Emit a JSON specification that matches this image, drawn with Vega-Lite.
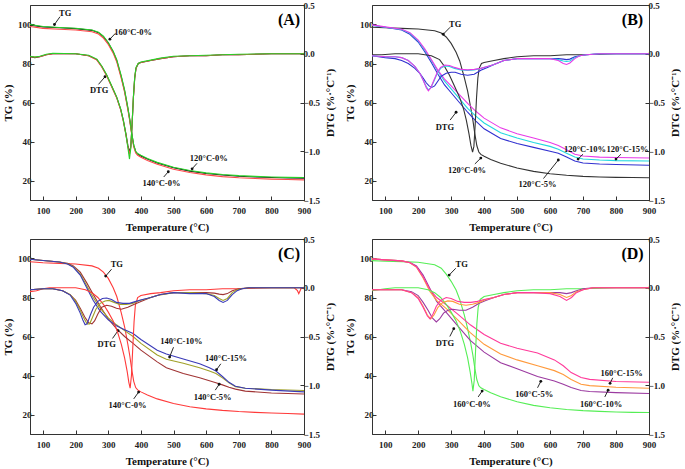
{
"$schema": "https://vega.github.io/schema/vega-lite/v6.json",
"padding": {"left": 2, "top": 0, "right": 0, "bottom": 0},
"background": "white",
"config": {
  "view": {"stroke": "#333", "strokeWidth": 1},
  "font": "Liberation Serif",
  "axis": {"labelFont": "Liberation Serif", "titleFont": "Liberation Serif", "labelFontWeight": "bold", "titleFontWeight": "bold", "labelFontSize": 9, "titleFontSize": 11, "grid": false, "domainColor": "#333", "tickColor": "#333", "labelColor": "#222", "titleColor": "#111", "tickSize": -4, "labelPadding": 3, "labelOverlap": false, "labelSeparation": 0},
  "axisX": {"labelPadding": 10, "titlePadding": 6, "labelOverlap": false, "labelFlush": false, "labelBound": false, "tickCount": 9}
},
"datasets": {
  "tgA": [
    {"s":"A120","t":60,"v":99.6},{"s":"A120","t":100,"v":98.8},{"s":"A120","t":150,"v":98.3},{"s":"A120","t":200,"v":97.9},{"s":"A120","t":250,"v":97.0},{"s":"A120","t":270,"v":95.8},{"s":"A120","t":285,"v":93.8},{"s":"A120","t":300,"v":90.5},{"s":"A120","t":315,"v":86},{"s":"A120","t":326,"v":81.5},{"s":"A120","t":340,"v":73},{"s":"A120","t":350,"v":66},{"s":"A120","t":360,"v":57},{"s":"A120","t":366,"v":51},{"s":"A120","t":372,"v":44},{"s":"A120","t":378,"v":38},{"s":"A120","t":384,"v":34.8},{"s":"A120","t":390,"v":33.6},{"s":"A120","t":400,"v":32.6},{"s":"A120","t":420,"v":31},{"s":"A120","t":450,"v":29},{"s":"A120","t":500,"v":26.5},{"s":"A120","t":550,"v":24.8},{"s":"A120","t":600,"v":23.6},{"s":"A120","t":650,"v":22.8},{"s":"A120","t":700,"v":22.2},{"s":"A120","t":750,"v":21.8},{"s":"A120","t":800,"v":21.5},{"s":"A120","t":850,"v":21.3},{"s":"A120","t":900,"v":21.2},
    {"s":"A140","t":60,"v":99.0},{"s":"A140","t":100,"v":98.0},{"s":"A140","t":150,"v":97.6},{"s":"A140","t":200,"v":97.2},{"s":"A140","t":250,"v":96.3},{"s":"A140","t":270,"v":95.1},{"s":"A140","t":285,"v":93.0},{"s":"A140","t":300,"v":89.8},{"s":"A140","t":315,"v":85.3},{"s":"A140","t":326,"v":80.8},{"s":"A140","t":340,"v":72.3},{"s":"A140","t":350,"v":65.3},{"s":"A140","t":360,"v":56.3},{"s":"A140","t":366,"v":50.3},{"s":"A140","t":372,"v":43.3},{"s":"A140","t":378,"v":37.3},{"s":"A140","t":384,"v":34.1},{"s":"A140","t":390,"v":32.9},{"s":"A140","t":400,"v":31.9},{"s":"A140","t":420,"v":30.3},{"s":"A140","t":450,"v":28.3},{"s":"A140","t":500,"v":25.8},{"s":"A140","t":550,"v":24.1},{"s":"A140","t":600,"v":22.9},{"s":"A140","t":650,"v":22.0},{"s":"A140","t":700,"v":21.4},{"s":"A140","t":750,"v":21.0},{"s":"A140","t":800,"v":20.7},{"s":"A140","t":850,"v":20.5},{"s":"A140","t":900,"v":20.3},
    {"s":"A160","t":60,"v":100.0},{"s":"A160","t":100,"v":99.0},{"s":"A160","t":150,"v":98.5},{"s":"A160","t":200,"v":98.1},{"s":"A160","t":250,"v":97.2},{"s":"A160","t":270,"v":96.0},{"s":"A160","t":285,"v":94.0},{"s":"A160","t":300,"v":90.8},{"s":"A160","t":315,"v":86.3},{"s":"A160","t":326,"v":82},{"s":"A160","t":340,"v":73.5},{"s":"A160","t":350,"v":66.5},{"s":"A160","t":360,"v":57.5},{"s":"A160","t":366,"v":51.3},{"s":"A160","t":372,"v":44.2},{"s":"A160","t":378,"v":38.2},{"s":"A160","t":384,"v":35.0},{"s":"A160","t":390,"v":33.8},{"s":"A160","t":400,"v":32.9},{"s":"A160","t":420,"v":31.3},{"s":"A160","t":450,"v":29.3},{"s":"A160","t":500,"v":26.8},{"s":"A160","t":550,"v":25.1},{"s":"A160","t":600,"v":23.9},{"s":"A160","t":650,"v":23.1},{"s":"A160","t":700,"v":22.5},{"s":"A160","t":750,"v":22.1},{"s":"A160","t":800,"v":21.8},{"s":"A160","t":850,"v":21.6},{"s":"A160","t":900,"v":21.5}
  ],
  "dtgA": [
    {"s":"A120","t":60,"v":-0.03},{"s":"A120","t":75,"v":-0.04},{"s":"A120","t":90,"v":-0.03},{"s":"A120","t":110,"v":-0.01},{"s":"A120","t":130,"v":0.0},{"s":"A120","t":200,"v":0.0},{"s":"A120","t":240,"v":-0.02},{"s":"A120","t":265,"v":-0.06},{"s":"A120","t":280,"v":-0.13},{"s":"A120","t":295,"v":-0.22},{"s":"A120","t":310,"v":-0.33},{"s":"A120","t":326,"v":-0.45},{"s":"A120","t":338,"v":-0.57},{"s":"A120","t":346,"v":-0.68},{"s":"A120","t":354,"v":-0.82},{"s":"A120","t":360,"v":-0.94},{"s":"A120","t":365,"v":-1.01},{"s":"A120","t":369,"v":-0.95},{"s":"A120","t":373,"v":-0.72},{"s":"A120","t":377,"v":-0.45},{"s":"A120","t":381,"v":-0.25},{"s":"A120","t":385,"v":-0.15},{"s":"A120","t":392,"v":-0.1},{"s":"A120","t":400,"v":-0.09},{"s":"A120","t":430,"v":-0.07},{"s":"A120","t":460,"v":-0.05},{"s":"A120","t":500,"v":-0.03},{"s":"A120","t":550,"v":-0.02},{"s":"A120","t":600,"v":-0.02},{"s":"A120","t":650,"v":-0.01},{"s":"A120","t":700,"v":-0.01},{"s":"A120","t":800,"v":0.0},{"s":"A120","t":900,"v":0.0},
    {"s":"A140","t":60,"v":-0.03},{"s":"A140","t":75,"v":-0.035},{"s":"A140","t":90,"v":-0.03},{"s":"A140","t":110,"v":-0.01},{"s":"A140","t":130,"v":0.0},{"s":"A140","t":200,"v":0.0},{"s":"A140","t":240,"v":-0.02},{"s":"A140","t":265,"v":-0.065},{"s":"A140","t":280,"v":-0.135},{"s":"A140","t":295,"v":-0.225},{"s":"A140","t":310,"v":-0.335},{"s":"A140","t":326,"v":-0.455},{"s":"A140","t":338,"v":-0.575},{"s":"A140","t":346,"v":-0.69},{"s":"A140","t":354,"v":-0.83},{"s":"A140","t":360,"v":-0.95},{"s":"A140","t":365,"v":-1.03},{"s":"A140","t":369,"v":-0.96},{"s":"A140","t":373,"v":-0.72},{"s":"A140","t":377,"v":-0.45},{"s":"A140","t":381,"v":-0.25},{"s":"A140","t":385,"v":-0.15},{"s":"A140","t":392,"v":-0.1},{"s":"A140","t":400,"v":-0.09},{"s":"A140","t":430,"v":-0.07},{"s":"A140","t":460,"v":-0.05},{"s":"A140","t":500,"v":-0.03},{"s":"A140","t":550,"v":-0.02},{"s":"A140","t":600,"v":-0.02},{"s":"A140","t":650,"v":-0.01},{"s":"A140","t":700,"v":-0.01},{"s":"A140","t":800,"v":0.0},{"s":"A140","t":900,"v":0.0},
    {"s":"A160","t":60,"v":-0.025},{"s":"A160","t":75,"v":-0.035},{"s":"A160","t":90,"v":-0.025},{"s":"A160","t":110,"v":-0.005},{"s":"A160","t":130,"v":0.005},{"s":"A160","t":200,"v":0.0},{"s":"A160","t":240,"v":-0.015},{"s":"A160","t":265,"v":-0.055},{"s":"A160","t":280,"v":-0.125},{"s":"A160","t":295,"v":-0.215},{"s":"A160","t":310,"v":-0.325},{"s":"A160","t":326,"v":-0.445},{"s":"A160","t":338,"v":-0.565},{"s":"A160","t":346,"v":-0.68},{"s":"A160","t":354,"v":-0.83},{"s":"A160","t":360,"v":-0.96},{"s":"A160","t":365,"v":-1.08},{"s":"A160","t":369,"v":-0.97},{"s":"A160","t":373,"v":-0.72},{"s":"A160","t":377,"v":-0.44},{"s":"A160","t":381,"v":-0.24},{"s":"A160","t":385,"v":-0.14},{"s":"A160","t":392,"v":-0.1},{"s":"A160","t":400,"v":-0.085},{"s":"A160","t":430,"v":-0.065},{"s":"A160","t":460,"v":-0.045},{"s":"A160","t":500,"v":-0.025},{"s":"A160","t":550,"v":-0.02},{"s":"A160","t":600,"v":-0.015},{"s":"A160","t":650,"v":-0.01},{"s":"A160","t":700,"v":-0.005},{"s":"A160","t":800,"v":0.0},{"s":"A160","t":900,"v":0.0}
  ],
  "tgB": [
    {"s":"B0","t":60,"v":98.6},{"s":"B0","t":100,"v":98.3},{"s":"B0","t":150,"v":98.0},{"s":"B0","t":200,"v":97.7},{"s":"B0","t":250,"v":96.8},{"s":"B0","t":270,"v":95.6},{"s":"B0","t":285,"v":93.6},{"s":"B0","t":300,"v":90.3},{"s":"B0","t":315,"v":85.8},{"s":"B0","t":326,"v":81.3},{"s":"B0","t":340,"v":72.8},{"s":"B0","t":350,"v":65.8},{"s":"B0","t":360,"v":56.8},{"s":"B0","t":366,"v":50.8},{"s":"B0","t":372,"v":43.8},{"s":"B0","t":378,"v":37.8},{"s":"B0","t":384,"v":34.6},{"s":"B0","t":390,"v":33.4},{"s":"B0","t":400,"v":32.4},{"s":"B0","t":420,"v":30.8},{"s":"B0","t":450,"v":28.8},{"s":"B0","t":500,"v":26.4},{"s":"B0","t":550,"v":24.7},{"s":"B0","t":600,"v":23.5},{"s":"B0","t":650,"v":22.7},{"s":"B0","t":700,"v":22.1},{"s":"B0","t":750,"v":21.8},{"s":"B0","t":800,"v":21.6},{"s":"B0","t":850,"v":21.5},{"s":"B0","t":900,"v":21.4},
    {"s":"B5","t":60,"v":99.6},{"s":"B5","t":100,"v":98.6},{"s":"B5","t":150,"v":97.2},{"s":"B5","t":175,"v":95},{"s":"B5","t":200,"v":91},{"s":"B5","t":220,"v":86},{"s":"B5","t":240,"v":80.5},{"s":"B5","t":260,"v":74.5},{"s":"B5","t":280,"v":69},{"s":"B5","t":300,"v":65},{"s":"B5","t":325,"v":60},{"s":"B5","t":350,"v":55},{"s":"B5","t":375,"v":50.5},{"s":"B5","t":400,"v":46.5},{"s":"B5","t":450,"v":41.5},{"s":"B5","t":500,"v":39},{"s":"B5","t":550,"v":37},{"s":"B5","t":600,"v":35},{"s":"B5","t":625,"v":34},{"s":"B5","t":650,"v":32},{"s":"B5","t":675,"v":30},{"s":"B5","t":700,"v":29},{"s":"B5","t":750,"v":28.5},{"s":"B5","t":800,"v":28.2},{"s":"B5","t":900,"v":27.8},
    {"s":"B10","t":60,"v":99.6},{"s":"B10","t":100,"v":98.6},{"s":"B10","t":150,"v":97.4},{"s":"B10","t":175,"v":95.5},{"s":"B10","t":200,"v":91.6},{"s":"B10","t":220,"v":87},{"s":"B10","t":240,"v":81.5},{"s":"B10","t":260,"v":76},{"s":"B10","t":280,"v":71},{"s":"B10","t":300,"v":67},{"s":"B10","t":325,"v":62},{"s":"B10","t":350,"v":57},{"s":"B10","t":375,"v":53},{"s":"B10","t":400,"v":49.5},{"s":"B10","t":450,"v":44.5},{"s":"B10","t":500,"v":41.8},{"s":"B10","t":550,"v":39.5},{"s":"B10","t":600,"v":37.5},{"s":"B10","t":625,"v":36},{"s":"B10","t":650,"v":34},{"s":"B10","t":675,"v":32},{"s":"B10","t":700,"v":31},{"s":"B10","t":750,"v":30.5},{"s":"B10","t":800,"v":30.2},{"s":"B10","t":900,"v":30},
    {"s":"B15","t":60,"v":99.8},{"s":"B15","t":100,"v":98.8},{"s":"B15","t":150,"v":97.6},{"s":"B15","t":175,"v":95.8},{"s":"B15","t":200,"v":92},{"s":"B15","t":220,"v":87.5},{"s":"B15","t":240,"v":82},{"s":"B15","t":260,"v":76.5},{"s":"B15","t":280,"v":72},{"s":"B15","t":300,"v":68.5},{"s":"B15","t":325,"v":64},{"s":"B15","t":350,"v":59.5},{"s":"B15","t":375,"v":55.5},{"s":"B15","t":400,"v":52},{"s":"B15","t":450,"v":47},{"s":"B15","t":500,"v":44},{"s":"B15","t":550,"v":41.8},{"s":"B15","t":600,"v":39.5},{"s":"B15","t":625,"v":38},{"s":"B15","t":650,"v":35.8},{"s":"B15","t":675,"v":33.5},{"s":"B15","t":700,"v":32.6},{"s":"B15","t":750,"v":32},{"s":"B15","t":800,"v":31.8},{"s":"B15","t":900,"v":31.5}
  ],
  "dtgB": [
    {"s":"B0","t":60,"v":-0.01},{"s":"B0","t":90,"v":-0.01},{"s":"B0","t":130,"v":0.0},{"s":"B0","t":200,"v":0.0},{"s":"B0","t":240,"v":-0.02},{"s":"B0","t":265,"v":-0.06},{"s":"B0","t":280,"v":-0.13},{"s":"B0","t":295,"v":-0.22},{"s":"B0","t":310,"v":-0.33},{"s":"B0","t":326,"v":-0.45},{"s":"B0","t":338,"v":-0.57},{"s":"B0","t":346,"v":-0.68},{"s":"B0","t":354,"v":-0.82},{"s":"B0","t":360,"v":-0.94},{"s":"B0","t":365,"v":-1.01},{"s":"B0","t":369,"v":-0.95},{"s":"B0","t":373,"v":-0.72},{"s":"B0","t":377,"v":-0.45},{"s":"B0","t":381,"v":-0.25},{"s":"B0","t":385,"v":-0.15},{"s":"B0","t":392,"v":-0.1},{"s":"B0","t":400,"v":-0.09},{"s":"B0","t":430,"v":-0.07},{"s":"B0","t":460,"v":-0.05},{"s":"B0","t":500,"v":-0.03},{"s":"B0","t":550,"v":-0.02},{"s":"B0","t":600,"v":-0.02},{"s":"B0","t":650,"v":-0.01},{"s":"B0","t":700,"v":-0.01},{"s":"B0","t":800,"v":0.0},{"s":"B0","t":900,"v":0.0},
    {"s":"B5","t":60,"v":-0.02},{"s":"B5","t":100,"v":-0.04},{"s":"B5","t":130,"v":-0.05},{"s":"B5","t":150,"v":-0.07},{"s":"B5","t":170,"v":-0.1},{"s":"B5","t":190,"v":-0.15},{"s":"B5","t":205,"v":-0.2},{"s":"B5","t":215,"v":-0.25},{"s":"B5","t":225,"v":-0.3},{"s":"B5","t":233,"v":-0.33},{"s":"B5","t":241,"v":-0.345},{"s":"B5","t":250,"v":-0.33},{"s":"B5","t":260,"v":-0.28},{"s":"B5","t":270,"v":-0.23},{"s":"B5","t":285,"v":-0.2},{"s":"B5","t":300,"v":-0.19},{"s":"B5","t":312,"v":-0.19},{"s":"B5","t":330,"v":-0.21},{"s":"B5","t":350,"v":-0.22},{"s":"B5","t":370,"v":-0.21},{"s":"B5","t":390,"v":-0.17},{"s":"B5","t":410,"v":-0.14},{"s":"B5","t":430,"v":-0.11},{"s":"B5","t":460,"v":-0.07},{"s":"B5","t":500,"v":-0.05},{"s":"B5","t":550,"v":-0.05},{"s":"B5","t":600,"v":-0.05},{"s":"B5","t":625,"v":-0.05},{"s":"B5","t":640,"v":-0.055},{"s":"B5","t":650,"v":-0.06},{"s":"B5","t":660,"v":-0.055},{"s":"B5","t":675,"v":-0.03},{"s":"B5","t":690,"v":-0.02},{"s":"B5","t":710,"v":-0.01},{"s":"B5","t":750,"v":0},{"s":"B5","t":900,"v":0},
    {"s":"B10","t":60,"v":-0.02},{"s":"B10","t":100,"v":-0.03},{"s":"B10","t":130,"v":-0.03},{"s":"B10","t":150,"v":-0.04},{"s":"B10","t":170,"v":-0.07},{"s":"B10","t":190,"v":-0.13},{"s":"B10","t":205,"v":-0.2},{"s":"B10","t":215,"v":-0.27},{"s":"B10","t":225,"v":-0.34},{"s":"B10","t":231,"v":-0.37},{"s":"B10","t":238,"v":-0.35},{"s":"B10","t":248,"v":-0.28},{"s":"B10","t":258,"v":-0.2},{"s":"B10","t":268,"v":-0.15},{"s":"B10","t":281,"v":-0.125},{"s":"B10","t":295,"v":-0.13},{"s":"B10","t":310,"v":-0.15},{"s":"B10","t":330,"v":-0.165},{"s":"B10","t":350,"v":-0.17},{"s":"B10","t":370,"v":-0.165},{"s":"B10","t":390,"v":-0.15},{"s":"B10","t":410,"v":-0.13},{"s":"B10","t":430,"v":-0.11},{"s":"B10","t":460,"v":-0.07},{"s":"B10","t":500,"v":-0.05},{"s":"B10","t":550,"v":-0.05},{"s":"B10","t":600,"v":-0.05},{"s":"B10","t":625,"v":-0.06},{"s":"B10","t":640,"v":-0.075},{"s":"B10","t":650,"v":-0.08},{"s":"B10","t":660,"v":-0.075},{"s":"B10","t":675,"v":-0.04},{"s":"B10","t":690,"v":-0.02},{"s":"B10","t":710,"v":-0.01},{"s":"B10","t":750,"v":0},{"s":"B10","t":900,"v":0},
    {"s":"B15","t":60,"v":-0.02},{"s":"B15","t":100,"v":-0.03},{"s":"B15","t":130,"v":-0.03},{"s":"B15","t":150,"v":-0.04},{"s":"B15","t":170,"v":-0.07},{"s":"B15","t":190,"v":-0.13},{"s":"B15","t":205,"v":-0.2},{"s":"B15","t":215,"v":-0.27},{"s":"B15","t":225,"v":-0.35},{"s":"B15","t":231,"v":-0.38},{"s":"B15","t":238,"v":-0.35},{"s":"B15","t":248,"v":-0.27},{"s":"B15","t":258,"v":-0.19},{"s":"B15","t":268,"v":-0.14},{"s":"B15","t":281,"v":-0.115},{"s":"B15","t":295,"v":-0.12},{"s":"B15","t":310,"v":-0.14},{"s":"B15","t":330,"v":-0.16},{"s":"B15","t":350,"v":-0.165},{"s":"B15","t":370,"v":-0.16},{"s":"B15","t":390,"v":-0.15},{"s":"B15","t":410,"v":-0.13},{"s":"B15","t":430,"v":-0.11},{"s":"B15","t":460,"v":-0.07},{"s":"B15","t":500,"v":-0.05},{"s":"B15","t":550,"v":-0.05},{"s":"B15","t":600,"v":-0.05},{"s":"B15","t":625,"v":-0.07},{"s":"B15","t":640,"v":-0.1},{"s":"B15","t":650,"v":-0.11},{"s":"B15","t":660,"v":-0.095},{"s":"B15","t":675,"v":-0.05},{"s":"B15","t":690,"v":-0.02},{"s":"B15","t":710,"v":-0.01},{"s":"B15","t":750,"v":0},{"s":"B15","t":900,"v":0}
  ],
  "tgC": [
    {"s":"C0","t":60,"v":98.3},{"s":"C0","t":100,"v":97.8},{"s":"C0","t":150,"v":97.5},{"s":"C0","t":200,"v":97.2},{"s":"C0","t":250,"v":96.2},{"s":"C0","t":270,"v":95},{"s":"C0","t":285,"v":93},{"s":"C0","t":300,"v":89.8},{"s":"C0","t":315,"v":85},{"s":"C0","t":326,"v":80.5},{"s":"C0","t":340,"v":72},{"s":"C0","t":350,"v":65},{"s":"C0","t":360,"v":56},{"s":"C0","t":366,"v":50},{"s":"C0","t":372,"v":43},{"s":"C0","t":378,"v":37},{"s":"C0","t":384,"v":33.8},{"s":"C0","t":390,"v":32.6},{"s":"C0","t":400,"v":31.6},{"s":"C0","t":420,"v":30},{"s":"C0","t":450,"v":28},{"s":"C0","t":500,"v":25.6},{"s":"C0","t":550,"v":24},{"s":"C0","t":600,"v":22.9},{"s":"C0","t":650,"v":22.1},{"s":"C0","t":700,"v":21.5},{"s":"C0","t":750,"v":21.1},{"s":"C0","t":800,"v":20.8},{"s":"C0","t":850,"v":20.5},{"s":"C0","t":900,"v":20.2},
    {"s":"C5","t":60,"v":99.6},{"s":"C5","t":100,"v":99},{"s":"C5","t":150,"v":98.2},{"s":"C5","t":175,"v":97.5},{"s":"C5","t":193,"v":96.2},{"s":"C5","t":214,"v":93},{"s":"C5","t":234,"v":87.5},{"s":"C5","t":254,"v":81.5},{"s":"C5","t":275,"v":75.5},{"s":"C5","t":300,"v":69},{"s":"C5","t":325,"v":64},{"s":"C5","t":350,"v":60},{"s":"C5","t":376,"v":56.5},{"s":"C5","t":400,"v":53},{"s":"C5","t":450,"v":47},{"s":"C5","t":478,"v":44},{"s":"C5","t":530,"v":41},{"s":"C5","t":580,"v":38.8},{"s":"C5","t":610,"v":37.3},{"s":"C5","t":630,"v":36.3},{"s":"C5","t":650,"v":35.2},{"s":"C5","t":670,"v":34},{"s":"C5","t":690,"v":33},{"s":"C5","t":720,"v":32},{"s":"C5","t":800,"v":31},{"s":"C5","t":900,"v":30.5},
    {"s":"C10","t":60,"v":99.6},{"s":"C10","t":100,"v":99},{"s":"C10","t":150,"v":98.2},{"s":"C10","t":175,"v":97.3},{"s":"C10","t":193,"v":95.8},{"s":"C10","t":214,"v":92},{"s":"C10","t":234,"v":86},{"s":"C10","t":254,"v":80},{"s":"C10","t":275,"v":74.5},{"s":"C10","t":300,"v":69.5},{"s":"C10","t":325,"v":66},{"s":"C10","t":350,"v":63},{"s":"C10","t":376,"v":60},{"s":"C10","t":400,"v":56.5},{"s":"C10","t":450,"v":50.5},{"s":"C10","t":478,"v":48.3},{"s":"C10","t":530,"v":46.3},{"s":"C10","t":580,"v":44},{"s":"C10","t":610,"v":42.3},{"s":"C10","t":630,"v":41},{"s":"C10","t":650,"v":38.8},{"s":"C10","t":670,"v":36.2},{"s":"C10","t":690,"v":34.3},{"s":"C10","t":720,"v":33.5},{"s":"C10","t":800,"v":32.8},{"s":"C10","t":900,"v":32.3},
    {"s":"C15","t":60,"v":99.6},{"s":"C15","t":100,"v":99},{"s":"C15","t":150,"v":98.2},{"s":"C15","t":175,"v":97.2},{"s":"C15","t":193,"v":95.5},{"s":"C15","t":214,"v":91.5},{"s":"C15","t":234,"v":85},{"s":"C15","t":254,"v":78.5},{"s":"C15","t":275,"v":73},{"s":"C15","t":300,"v":68.5},{"s":"C15","t":325,"v":65.5},{"s":"C15","t":350,"v":63.5},{"s":"C15","t":376,"v":61.5},{"s":"C15","t":400,"v":58.5},{"s":"C15","t":450,"v":53},{"s":"C15","t":478,"v":51},{"s":"C15","t":530,"v":48.5},{"s":"C15","t":580,"v":46},{"s":"C15","t":610,"v":44},{"s":"C15","t":630,"v":42.3},{"s":"C15","t":650,"v":39.5},{"s":"C15","t":670,"v":36.5},{"s":"C15","t":690,"v":34.5},{"s":"C15","t":720,"v":33.5},{"s":"C15","t":800,"v":32.5},{"s":"C15","t":900,"v":31.6}
  ],
  "dtgC": [
    {"s":"C0","t":60,"v":-0.04},{"s":"C0","t":80,"v":-0.03},{"s":"C0","t":100,"v":-0.01},{"s":"C0","t":120,"v":0.0},{"s":"C0","t":200,"v":0.0},{"s":"C0","t":230,"v":-0.02},{"s":"C0","t":250,"v":-0.05},{"s":"C0","t":268,"v":-0.1},{"s":"C0","t":285,"v":-0.17},{"s":"C0","t":300,"v":-0.25},{"s":"C0","t":315,"v":-0.34},{"s":"C0","t":328,"v":-0.45},{"s":"C0","t":340,"v":-0.58},{"s":"C0","t":350,"v":-0.72},{"s":"C0","t":358,"v":-0.86},{"s":"C0","t":363,"v":-0.97},{"s":"C0","t":367,"v":-1.03},{"s":"C0","t":371,"v":-0.9},{"s":"C0","t":375,"v":-0.62},{"s":"C0","t":379,"v":-0.35},{"s":"C0","t":383,"v":-0.18},{"s":"C0","t":390,"v":-0.1},{"s":"C0","t":400,"v":-0.08},{"s":"C0","t":430,"v":-0.06},{"s":"C0","t":460,"v":-0.05},{"s":"C0","t":500,"v":-0.03},{"s":"C0","t":550,"v":-0.02},{"s":"C0","t":600,"v":-0.02},{"s":"C0","t":650,"v":-0.01},{"s":"C0","t":700,"v":-0.01},{"s":"C0","t":800,"v":0.0},{"s":"C0","t":870,"v":0.0},{"s":"C0","t":880,"v":-0.03},{"s":"C0","t":884,"v":-0.06},{"s":"C0","t":888,"v":-0.03},{"s":"C0","t":892,"v":0.0},{"s":"C0","t":900,"v":0.0},
    {"s":"C5","t":60,"v":-0.02},{"s":"C5","t":100,"v":-0.01},{"s":"C5","t":130,"v":-0.01},{"s":"C5","t":160,"v":-0.03},{"s":"C5","t":183,"v":-0.07},{"s":"C5","t":200,"v":-0.13},{"s":"C5","t":214,"v":-0.21},{"s":"C5","t":228,"v":-0.3},{"s":"C5","t":240,"v":-0.36},{"s":"C5","t":250,"v":-0.37},{"s":"C5","t":258,"v":-0.34},{"s":"C5","t":268,"v":-0.27},{"s":"C5","t":280,"v":-0.2},{"s":"C5","t":295,"v":-0.18},{"s":"C5","t":310,"v":-0.19},{"s":"C5","t":325,"v":-0.21},{"s":"C5","t":340,"v":-0.22},{"s":"C5","t":360,"v":-0.2},{"s":"C5","t":380,"v":-0.17},{"s":"C5","t":400,"v":-0.14},{"s":"C5","t":430,"v":-0.1},{"s":"C5","t":460,"v":-0.07},{"s":"C5","t":500,"v":-0.05},{"s":"C5","t":550,"v":-0.05},{"s":"C5","t":600,"v":-0.05},{"s":"C5","t":625,"v":-0.055},{"s":"C5","t":640,"v":-0.065},{"s":"C5","t":652,"v":-0.07},{"s":"C5","t":665,"v":-0.06},{"s":"C5","t":680,"v":-0.03},{"s":"C5","t":700,"v":-0.01},{"s":"C5","t":730,"v":0},{"s":"C5","t":900,"v":0},
    {"s":"C10","t":60,"v":-0.02},{"s":"C10","t":100,"v":-0.01},{"s":"C10","t":130,"v":-0.01},{"s":"C10","t":160,"v":-0.03},{"s":"C10","t":183,"v":-0.07},{"s":"C10","t":200,"v":-0.14},{"s":"C10","t":214,"v":-0.23},{"s":"C10","t":225,"v":-0.31},{"s":"C10","t":235,"v":-0.37},{"s":"C10","t":243,"v":-0.37},{"s":"C10","t":252,"v":-0.3},{"s":"C10","t":262,"v":-0.22},{"s":"C10","t":275,"v":-0.16},{"s":"C10","t":290,"v":-0.135},{"s":"C10","t":302,"v":-0.13},{"s":"C10","t":318,"v":-0.15},{"s":"C10","t":335,"v":-0.17},{"s":"C10","t":355,"v":-0.17},{"s":"C10","t":375,"v":-0.16},{"s":"C10","t":395,"v":-0.13},{"s":"C10","t":420,"v":-0.11},{"s":"C10","t":450,"v":-0.08},{"s":"C10","t":500,"v":-0.05},{"s":"C10","t":550,"v":-0.05},{"s":"C10","t":600,"v":-0.06},{"s":"C10","t":625,"v":-0.08},{"s":"C10","t":640,"v":-0.11},{"s":"C10","t":652,"v":-0.13},{"s":"C10","t":665,"v":-0.11},{"s":"C10","t":680,"v":-0.05},{"s":"C10","t":695,"v":-0.02},{"s":"C10","t":710,"v":-0.01},{"s":"C10","t":730,"v":0},{"s":"C10","t":900,"v":0},
    {"s":"C15","t":60,"v":-0.02},{"s":"C15","t":100,"v":-0.01},{"s":"C15","t":130,"v":-0.01},{"s":"C15","t":160,"v":-0.03},{"s":"C15","t":183,"v":-0.075},{"s":"C15","t":200,"v":-0.16},{"s":"C15","t":214,"v":-0.26},{"s":"C15","t":222,"v":-0.33},{"s":"C15","t":229,"v":-0.38},{"s":"C15","t":235,"v":-0.37},{"s":"C15","t":245,"v":-0.28},{"s":"C15","t":255,"v":-0.2},{"s":"C15","t":268,"v":-0.14},{"s":"C15","t":282,"v":-0.11},{"s":"C15","t":295,"v":-0.105},{"s":"C15","t":310,"v":-0.12},{"s":"C15","t":325,"v":-0.15},{"s":"C15","t":345,"v":-0.16},{"s":"C15","t":365,"v":-0.16},{"s":"C15","t":385,"v":-0.14},{"s":"C15","t":405,"v":-0.12},{"s":"C15","t":430,"v":-0.1},{"s":"C15","t":460,"v":-0.07},{"s":"C15","t":500,"v":-0.05},{"s":"C15","t":550,"v":-0.06},{"s":"C15","t":600,"v":-0.06},{"s":"C15","t":625,"v":-0.09},{"s":"C15","t":640,"v":-0.13},{"s":"C15","t":652,"v":-0.15},{"s":"C15","t":665,"v":-0.13},{"s":"C15","t":680,"v":-0.07},{"s":"C15","t":695,"v":-0.03},{"s":"C15","t":710,"v":-0.01},{"s":"C15","t":730,"v":0},{"s":"C15","t":900,"v":0}
  ],
  "tgD": [
    {"s":"D0","t":60,"v":98.9},{"s":"D0","t":100,"v":98.6},{"s":"D0","t":150,"v":98.4},{"s":"D0","t":200,"v":98.1},{"s":"D0","t":250,"v":96.8},{"s":"D0","t":270,"v":95},{"s":"D0","t":285,"v":92},{"s":"D0","t":300,"v":88.3},{"s":"D0","t":315,"v":83.8},{"s":"D0","t":326,"v":79},{"s":"D0","t":340,"v":71},{"s":"D0","t":350,"v":64},{"s":"D0","t":360,"v":56},{"s":"D0","t":366,"v":50.3},{"s":"D0","t":372,"v":43.5},{"s":"D0","t":378,"v":37.8},{"s":"D0","t":384,"v":34.8},{"s":"D0","t":390,"v":33.7},{"s":"D0","t":400,"v":32.8},{"s":"D0","t":420,"v":31.2},{"s":"D0","t":450,"v":29.1},{"s":"D0","t":500,"v":26.5},{"s":"D0","t":550,"v":24.7},{"s":"D0","t":600,"v":23.5},{"s":"D0","t":650,"v":22.6},{"s":"D0","t":700,"v":22},{"s":"D0","t":750,"v":21.6},{"s":"D0","t":800,"v":21.3},{"s":"D0","t":850,"v":21.1},{"s":"D0","t":900,"v":21.0},
    {"s":"D5","t":60,"v":99.8},{"s":"D5","t":100,"v":99.3},{"s":"D5","t":150,"v":98.8},{"s":"D5","t":175,"v":98},{"s":"D5","t":195,"v":96.2},{"s":"D5","t":215,"v":91.5},{"s":"D5","t":236,"v":84.5},{"s":"D5","t":256,"v":78},{"s":"D5","t":287,"v":72},{"s":"D5","t":320,"v":65.5},{"s":"D5","t":358,"v":58},{"s":"D5","t":400,"v":52},{"s":"D5","t":450,"v":46.5},{"s":"D5","t":500,"v":43.5},{"s":"D5","t":562,"v":39.5},{"s":"D5","t":613,"v":37.2},{"s":"D5","t":640,"v":35.5},{"s":"D5","t":664,"v":33.8},{"s":"D5","t":694,"v":32.3},{"s":"D5","t":720,"v":31.8},{"s":"D5","t":800,"v":31.2},{"s":"D5","t":900,"v":30.8},
    {"s":"D10","t":60,"v":99.8},{"s":"D10","t":100,"v":99.3},{"s":"D10","t":150,"v":98.8},{"s":"D10","t":175,"v":97.8},{"s":"D10","t":195,"v":95.5},{"s":"D10","t":215,"v":90},{"s":"D10","t":236,"v":83},{"s":"D10","t":256,"v":78.5},{"s":"D10","t":287,"v":74},{"s":"D10","t":320,"v":68.5},{"s":"D10","t":358,"v":62},{"s":"D10","t":400,"v":56},{"s":"D10","t":450,"v":51},{"s":"D10","t":500,"v":48},{"s":"D10","t":562,"v":45},{"s":"D10","t":613,"v":42.5},{"s":"D10","t":640,"v":40.5},{"s":"D10","t":664,"v":38},{"s":"D10","t":694,"v":35.5},{"s":"D10","t":720,"v":34.8},{"s":"D10","t":800,"v":34},{"s":"D10","t":900,"v":33.5},
    {"s":"D15","t":60,"v":99.8},{"s":"D15","t":100,"v":99.3},{"s":"D15","t":150,"v":98.8},{"s":"D15","t":175,"v":97.8},{"s":"D15","t":195,"v":95.7},{"s":"D15","t":215,"v":90.5},{"s":"D15","t":236,"v":84},{"s":"D15","t":256,"v":80},{"s":"D15","t":287,"v":76},{"s":"D15","t":320,"v":71.5},{"s":"D15","t":358,"v":66},{"s":"D15","t":400,"v":61},{"s":"D15","t":450,"v":56.5},{"s":"D15","t":500,"v":54},{"s":"D15","t":562,"v":51.5},{"s":"D15","t":613,"v":48},{"s":"D15","t":640,"v":45},{"s":"D15","t":664,"v":41.5},{"s":"D15","t":694,"v":39},{"s":"D15","t":720,"v":38},{"s":"D15","t":800,"v":36.9},{"s":"D15","t":900,"v":36.5}
  ],
  "dtgD": [
    {"s":"D0","t":60,"v":-0.03},{"s":"D0","t":80,"v":-0.02},{"s":"D0","t":100,"v":-0.01},{"s":"D0","t":130,"v":0.0},{"s":"D0","t":200,"v":0.0},{"s":"D0","t":230,"v":-0.02},{"s":"D0","t":250,"v":-0.05},{"s":"D0","t":268,"v":-0.1},{"s":"D0","t":285,"v":-0.17},{"s":"D0","t":300,"v":-0.25},{"s":"D0","t":315,"v":-0.34},{"s":"D0","t":328,"v":-0.45},{"s":"D0","t":340,"v":-0.58},{"s":"D0","t":350,"v":-0.72},{"s":"D0","t":358,"v":-0.87},{"s":"D0","t":363,"v":-0.98},{"s":"D0","t":366,"v":-1.06},{"s":"D0","t":370,"v":-0.95},{"s":"D0","t":374,"v":-0.65},{"s":"D0","t":378,"v":-0.37},{"s":"D0","t":382,"v":-0.2},{"s":"D0","t":388,"v":-0.12},{"s":"D0","t":400,"v":-0.09},{"s":"D0","t":430,"v":-0.07},{"s":"D0","t":460,"v":-0.05},{"s":"D0","t":500,"v":-0.03},{"s":"D0","t":550,"v":-0.02},{"s":"D0","t":600,"v":-0.02},{"s":"D0","t":650,"v":-0.01},{"s":"D0","t":700,"v":-0.01},{"s":"D0","t":800,"v":0.0},{"s":"D0","t":900,"v":0.0},
    {"s":"D5","t":60,"v":-0.02},{"s":"D5","t":100,"v":-0.02},{"s":"D5","t":150,"v":-0.02},{"s":"D5","t":180,"v":-0.04},{"s":"D5","t":200,"v":-0.08},{"s":"D5","t":215,"v":-0.15},{"s":"D5","t":230,"v":-0.23},{"s":"D5","t":243,"v":-0.31},{"s":"D5","t":255,"v":-0.35},{"s":"D5","t":265,"v":-0.32},{"s":"D5","t":277,"v":-0.26},{"s":"D5","t":290,"v":-0.23},{"s":"D5","t":305,"v":-0.22},{"s":"D5","t":325,"v":-0.23},{"s":"D5","t":345,"v":-0.23},{"s":"D5","t":365,"v":-0.2},{"s":"D5","t":385,"v":-0.16},{"s":"D5","t":405,"v":-0.13},{"s":"D5","t":430,"v":-0.1},{"s":"D5","t":460,"v":-0.07},{"s":"D5","t":500,"v":-0.05},{"s":"D5","t":550,"v":-0.05},{"s":"D5","t":600,"v":-0.05},{"s":"D5","t":630,"v":-0.05},{"s":"D5","t":650,"v":-0.06},{"s":"D5","t":665,"v":-0.05},{"s":"D5","t":680,"v":-0.03},{"s":"D5","t":700,"v":-0.01},{"s":"D5","t":730,"v":0},{"s":"D5","t":900,"v":0},
    {"s":"D10","t":60,"v":-0.02},{"s":"D10","t":100,"v":-0.02},{"s":"D10","t":150,"v":-0.02},{"s":"D10","t":180,"v":-0.05},{"s":"D10","t":200,"v":-0.1},{"s":"D10","t":215,"v":-0.19},{"s":"D10","t":228,"v":-0.28},{"s":"D10","t":238,"v":-0.32},{"s":"D10","t":248,"v":-0.28},{"s":"D10","t":260,"v":-0.2},{"s":"D10","t":275,"v":-0.15},{"s":"D10","t":290,"v":-0.135},{"s":"D10","t":305,"v":-0.14},{"s":"D10","t":325,"v":-0.17},{"s":"D10","t":345,"v":-0.18},{"s":"D10","t":365,"v":-0.17},{"s":"D10","t":385,"v":-0.15},{"s":"D10","t":405,"v":-0.12},{"s":"D10","t":430,"v":-0.1},{"s":"D10","t":460,"v":-0.07},{"s":"D10","t":500,"v":-0.05},{"s":"D10","t":550,"v":-0.05},{"s":"D10","t":600,"v":-0.05},{"s":"D10","t":630,"v":-0.07},{"s":"D10","t":650,"v":-0.1},{"s":"D10","t":665,"v":-0.08},{"s":"D10","t":680,"v":-0.04},{"s":"D10","t":700,"v":-0.02},{"s":"D10","t":730,"v":0},{"s":"D10","t":900,"v":0},
    {"s":"D15","t":60,"v":-0.02},{"s":"D15","t":100,"v":-0.02},{"s":"D15","t":150,"v":-0.02},{"s":"D15","t":180,"v":-0.05},{"s":"D15","t":200,"v":-0.11},{"s":"D15","t":215,"v":-0.2},{"s":"D15","t":228,"v":-0.29},{"s":"D15","t":236,"v":-0.32},{"s":"D15","t":245,"v":-0.27},{"s":"D15","t":255,"v":-0.19},{"s":"D15","t":268,"v":-0.13},{"s":"D15","t":285,"v":-0.1},{"s":"D15","t":300,"v":-0.11},{"s":"D15","t":320,"v":-0.14},{"s":"D15","t":340,"v":-0.15},{"s":"D15","t":360,"v":-0.15},{"s":"D15","t":380,"v":-0.14},{"s":"D15","t":400,"v":-0.12},{"s":"D15","t":430,"v":-0.1},{"s":"D15","t":460,"v":-0.07},{"s":"D15","t":500,"v":-0.05},{"s":"D15","t":550,"v":-0.05},{"s":"D15","t":600,"v":-0.06},{"s":"D15","t":630,"v":-0.09},{"s":"D15","t":650,"v":-0.13},{"s":"D15","t":665,"v":-0.1},{"s":"D15","t":680,"v":-0.05},{"s":"D15","t":700,"v":-0.02},{"s":"D15","t":730,"v":0},{"s":"D15","t":900,"v":0}
  ],
  "lblA": [{"t":168,"v":106,"label":"TG"},{"t":376,"v":96,"label":"160°C-0%"},{"t":272,"v":66.5,"label":"DTG"},{"t":608,"v":31.4,"label":"120°C-0%"},{"t":463,"v":18.8,"label":"140°C-0%"}],
  "arrA": [{"t":152,"v":104,"t2":135,"v2":100},{"t":322,"v":95.5,"t2":305,"v2":92.5},{"t":270,"v":69.3,"t2":290,"v2":73.2},{"t":572,"v":28.8,"t2":557,"v2":26},{"t":470,"v":21.8,"t2":484,"v2":24.5}],
  "lblB": [{"t":312,"v":100.3,"label":"TG"},{"t":281,"v":47.6,"label":"DTG"},{"t":348,"v":25.3,"label":"120°C-0%"},{"t":562,"v":18.3,"label":"120°C-5%"},{"t":706,"v":36.3,"label":"120°C-10%"},{"t":835,"v":36.3,"label":"120°C-15%"}],
  "arrB": [{"t":297,"v":98.6,"t2":276,"v2":95},{"t":297,"v":51,"t2":315,"v2":55},{"t":372,"v":28.5,"t2":390,"v2":31.5},{"t":580,"v":21,"t2":625,"v2":30.5},{"t":700,"v":33.5,"t2":685,"v2":31},{"t":815,"v":33.5,"t2":800,"v2":31}],
  "lblC": [{"t":326,"v":97,"label":"TG"},{"t":295,"v":56,"label":"DTG"},{"t":359,"v":24.7,"label":"140°C-0%"},{"t":524,"v":57.7,"label":"140°C-10%"},{"t":661,"v":48.8,"label":"140°C-15%"},{"t":620,"v":29,"label":"140°C-5%"}],
  "arrC": [{"t":310,"v":94.5,"t2":292,"v2":91},{"t":313,"v":59,"t2":330,"v2":63},{"t":378,"v":28,"t2":393,"v2":31.5},{"t":500,"v":54.5,"t2":488,"v2":49.5},{"t":645,"v":46,"t2":632,"v2":43},{"t":628,"v":32.5,"t2":640,"v2":35.5}],
  "lblD": [{"t":332,"v":97.4,"label":"TG"},{"t":281,"v":56.5,"label":"DTG"},{"t":363,"v":25.5,"label":"160°C-0%"},{"t":552,"v":30.3,"label":"160°C-5%"},{"t":755,"v":25.6,"label":"160°C-10%"},{"t":817,"v":41.5,"label":"160°C-15%"}],
  "arrD": [{"t":314,"v":95,"t2":294,"v2":91.5},{"t":296,"v":60,"t2":308,"v2":64},{"t":382,"v":29,"t2":394,"v2":32},{"t":562,"v":33.7,"t2":572,"v2":37},{"t":766,"v":29,"t2":776,"v2":32.5},{"t":790,"v":38.8,"t2":782,"v2":36}]
},
"vconcat": [
 {"hconcat": [
  {"width": 274, "height": 195,
   "layer": [
    {"layer": [
      {"data": {"name": "tgA"}, "mark": {"type": "line", "strokeWidth": 1.1},
       "encoding": {"x": {"field": "t", "type": "quantitative", "scale": {"domain": [60, 900], "nice": false}, "axis": {"values": [100,200,300,400,500,600,700,800,900], "title": "Temperature (°C)", "labelOverlap": false, "labelSeparation": 0, "labelFlush": false, "labelBound": false}},
                    "y": {"field": "v", "type": "quantitative", "scale": {"domain": [10, 110], "nice": false}, "axis": {"values": [20,40,60,80,100], "title": "TG (%)", "titlePadding": 4}},
                    "color": {"field": "s", "type": "nominal", "legend": null, "scale": {"domain": ["A120","A140","A160","B0","B5","B10","B15","C0","C5","C10","C15","D0","D5","D10","D15"], "range": ["#1a1a1a","#ff4a4a","#28d028","#333333","#3030d0","#22d8e0","#e83ae8","#ff3a3a","#a03434","#a0a028","#3a3ab8","#55ee55","#9b3aa0","#ff9a3c","#ff3a9a"]}}}},
      {"data": {"name": "arrA"}, "mark": {"type": "rule", "color": "#111", "strokeWidth": 0.9}, "encoding": {"x": {"field": "t", "type": "quantitative"}, "y": {"field": "v", "type": "quantitative"}, "x2": {"field": "t2"}, "y2": {"field": "v2"}}},
      {"data": {"name": "arrA"}, "mark": {"type": "point", "shape": "circle", "filled": true, "color": "#111", "size": 8, "opacity": 1}, "encoding": {"x": {"field": "t2", "type": "quantitative"}, "y": {"field": "v2", "type": "quantitative"}}},
      {"data": {"name": "lblA"}, "mark": {"type": "text", "font": "Liberation Serif", "fontWeight": "bold", "fontSize": 8.5, "color": "#111"}, "encoding": {"x": {"field": "t", "type": "quantitative"}, "y": {"field": "v", "type": "quantitative"}, "text": {"field": "label"}}},
      {"data": {"values": [{"t": 854, "v": 102.5, "label": "(A)"}]}, "mark": {"type": "text", "font": "Liberation Serif", "fontWeight": "bold", "fontSize": 16, "color": "#000"}, "encoding": {"x": {"field": "t", "type": "quantitative"}, "y": {"field": "v", "type": "quantitative"}, "text": {"field": "label"}}}
    ]},
    {"data": {"name": "dtgA"}, "mark": {"type": "line", "strokeWidth": 1.1},
     "encoding": {"x": {"field": "t", "type": "quantitative", "axis": {"values": [100,200,300,400,500,600,700,800,900], "title": "Temperature (°C)", "labelOverlap": false, "labelSeparation": 0, "labelFlush": false, "labelBound": false}},
                  "y": {"field": "v", "type": "quantitative", "scale": {"domain": [-1.5, 0.5], "nice": false}, "axis": {"orient": "right", "values": [-1.5,-1,-0.5,0,0.5], "format": ".1f", "title": "DTG (%·°C⁻¹)", "titleAngle": 270, "titlePadding": 16}},
                  "color": {"field": "s", "type": "nominal", "legend": null}}}
   ],
   "resolve": {"scale": {"y": "independent"}, "axis": {"x": "shared"}}},
  {"width": 277, "height": 195,
   "layer": [
    {"layer": [
      {"data": {"name": "tgB"}, "mark": {"type": "line", "strokeWidth": 1.1},
       "encoding": {"x": {"field": "t", "type": "quantitative", "scale": {"domain": [60, 900], "nice": false}, "axis": {"values": [100,200,300,400,500,600,700,800,900], "title": "Temperature (°C)", "labelOverlap": false, "labelSeparation": 0, "labelFlush": false, "labelBound": false}},
                    "y": {"field": "v", "type": "quantitative", "scale": {"domain": [10, 110], "nice": false}, "axis": {"values": [20,40,60,80,100], "title": "TG (%)", "titlePadding": 4}},
                    "color": {"field": "s", "type": "nominal", "legend": null, "scale": {"domain": ["A120","A140","A160","B0","B5","B10","B15","C0","C5","C10","C15","D0","D5","D10","D15"], "range": ["#1a1a1a","#ff4a4a","#28d028","#333333","#3030d0","#22d8e0","#e83ae8","#ff3a3a","#a03434","#a0a028","#3a3ab8","#55ee55","#9b3aa0","#ff9a3c","#ff3a9a"]}}}},
      {"data": {"name": "arrB"}, "mark": {"type": "rule", "color": "#111", "strokeWidth": 0.9}, "encoding": {"x": {"field": "t", "type": "quantitative"}, "y": {"field": "v", "type": "quantitative"}, "x2": {"field": "t2"}, "y2": {"field": "v2"}}},
      {"data": {"name": "arrB"}, "mark": {"type": "point", "shape": "circle", "filled": true, "color": "#111", "size": 8, "opacity": 1}, "encoding": {"x": {"field": "t2", "type": "quantitative"}, "y": {"field": "v2", "type": "quantitative"}}},
      {"data": {"name": "lblB"}, "mark": {"type": "text", "font": "Liberation Serif", "fontWeight": "bold", "fontSize": 8.5, "color": "#111"}, "encoding": {"x": {"field": "t", "type": "quantitative"}, "y": {"field": "v", "type": "quantitative"}, "text": {"field": "label"}}},
      {"data": {"values": [{"t": 850, "v": 102.5, "label": "(B)"}]}, "mark": {"type": "text", "font": "Liberation Serif", "fontWeight": "bold", "fontSize": 16, "color": "#000"}, "encoding": {"x": {"field": "t", "type": "quantitative"}, "y": {"field": "v", "type": "quantitative"}, "text": {"field": "label"}}}
    ]},
    {"data": {"name": "dtgB"}, "mark": {"type": "line", "strokeWidth": 1.1},
     "encoding": {"x": {"field": "t", "type": "quantitative", "axis": {"values": [100,200,300,400,500,600,700,800,900], "title": "Temperature (°C)", "labelOverlap": false, "labelSeparation": 0, "labelFlush": false, "labelBound": false}},
                  "y": {"field": "v", "type": "quantitative", "scale": {"domain": [-1.5, 0.5], "nice": false}, "axis": {"orient": "right", "values": [-1.5,-1,-0.5,0,0.5], "format": ".1f", "title": "DTG (%·°C⁻¹)", "titleAngle": 270, "titlePadding": 16}},
                  "color": {"field": "s", "type": "nominal", "legend": null}}}
   ],
   "resolve": {"scale": {"y": "independent"}, "axis": {"x": "shared"}}}
 ], "spacing": 8},
 {"hconcat": [
  {"width": 274, "height": 195,
   "layer": [
    {"layer": [
      {"data": {"name": "tgC"}, "mark": {"type": "line", "strokeWidth": 1.1},
       "encoding": {"x": {"field": "t", "type": "quantitative", "scale": {"domain": [60, 900], "nice": false}, "axis": {"values": [100,200,300,400,500,600,700,800,900], "title": "Temperature (°C)", "labelOverlap": false, "labelSeparation": 0, "labelFlush": false, "labelBound": false}},
                    "y": {"field": "v", "type": "quantitative", "scale": {"domain": [10, 110], "nice": false}, "axis": {"values": [20,40,60,80,100], "title": "TG (%)", "titlePadding": 4}},
                    "color": {"field": "s", "type": "nominal", "legend": null, "scale": {"domain": ["A120","A140","A160","B0","B5","B10","B15","C0","C5","C10","C15","D0","D5","D10","D15"], "range": ["#1a1a1a","#ff4a4a","#28d028","#333333","#3030d0","#22d8e0","#e83ae8","#ff3a3a","#a03434","#a0a028","#3a3ab8","#55ee55","#9b3aa0","#ff9a3c","#ff3a9a"]}}}},
      {"data": {"name": "arrC"}, "mark": {"type": "rule", "color": "#111", "strokeWidth": 0.9}, "encoding": {"x": {"field": "t", "type": "quantitative"}, "y": {"field": "v", "type": "quantitative"}, "x2": {"field": "t2"}, "y2": {"field": "v2"}}},
      {"data": {"name": "arrC"}, "mark": {"type": "point", "shape": "circle", "filled": true, "color": "#111", "size": 8, "opacity": 1}, "encoding": {"x": {"field": "t2", "type": "quantitative"}, "y": {"field": "v2", "type": "quantitative"}}},
      {"data": {"name": "lblC"}, "mark": {"type": "text", "font": "Liberation Serif", "fontWeight": "bold", "fontSize": 8.5, "color": "#111"}, "encoding": {"x": {"field": "t", "type": "quantitative"}, "y": {"field": "v", "type": "quantitative"}, "text": {"field": "label"}}},
      {"data": {"values": [{"t": 854, "v": 102.5, "label": "(C)"}]}, "mark": {"type": "text", "font": "Liberation Serif", "fontWeight": "bold", "fontSize": 16, "color": "#000"}, "encoding": {"x": {"field": "t", "type": "quantitative"}, "y": {"field": "v", "type": "quantitative"}, "text": {"field": "label"}}}
    ]},
    {"data": {"name": "dtgC"}, "mark": {"type": "line", "strokeWidth": 1.1},
     "encoding": {"x": {"field": "t", "type": "quantitative", "axis": {"values": [100,200,300,400,500,600,700,800,900], "title": "Temperature (°C)", "labelOverlap": false, "labelSeparation": 0, "labelFlush": false, "labelBound": false}},
                  "y": {"field": "v", "type": "quantitative", "scale": {"domain": [-1.5, 0.5], "nice": false}, "axis": {"orient": "right", "values": [-1.5,-1,-0.5,0,0.5], "format": ".1f", "title": "DTG (%·°C⁻¹)", "titleAngle": 270, "titlePadding": 16}},
                  "color": {"field": "s", "type": "nominal", "legend": null}}}
   ],
   "resolve": {"scale": {"y": "independent"}, "axis": {"x": "shared"}}},
  {"width": 277, "height": 195,
   "layer": [
    {"layer": [
      {"data": {"name": "tgD"}, "mark": {"type": "line", "strokeWidth": 1.1},
       "encoding": {"x": {"field": "t", "type": "quantitative", "scale": {"domain": [60, 900], "nice": false}, "axis": {"values": [100,200,300,400,500,600,700,800,900], "title": "Temperature (°C)", "labelOverlap": false, "labelSeparation": 0, "labelFlush": false, "labelBound": false}},
                    "y": {"field": "v", "type": "quantitative", "scale": {"domain": [10, 110], "nice": false}, "axis": {"values": [20,40,60,80,100], "title": "TG (%)", "titlePadding": 4}},
                    "color": {"field": "s", "type": "nominal", "legend": null, "scale": {"domain": ["A120","A140","A160","B0","B5","B10","B15","C0","C5","C10","C15","D0","D5","D10","D15"], "range": ["#1a1a1a","#ff4a4a","#28d028","#333333","#3030d0","#22d8e0","#e83ae8","#ff3a3a","#a03434","#a0a028","#3a3ab8","#55ee55","#9b3aa0","#ff9a3c","#ff3a9a"]}}}},
      {"data": {"name": "arrD"}, "mark": {"type": "rule", "color": "#111", "strokeWidth": 0.9}, "encoding": {"x": {"field": "t", "type": "quantitative"}, "y": {"field": "v", "type": "quantitative"}, "x2": {"field": "t2"}, "y2": {"field": "v2"}}},
      {"data": {"name": "arrD"}, "mark": {"type": "point", "shape": "circle", "filled": true, "color": "#111", "size": 8, "opacity": 1}, "encoding": {"x": {"field": "t2", "type": "quantitative"}, "y": {"field": "v2", "type": "quantitative"}}},
      {"data": {"name": "lblD"}, "mark": {"type": "text", "font": "Liberation Serif", "fontWeight": "bold", "fontSize": 8.5, "color": "#111"}, "encoding": {"x": {"field": "t", "type": "quantitative"}, "y": {"field": "v", "type": "quantitative"}, "text": {"field": "label"}}},
      {"data": {"values": [{"t": 850, "v": 102.5, "label": "(D)"}]}, "mark": {"type": "text", "font": "Liberation Serif", "fontWeight": "bold", "fontSize": 16, "color": "#000"}, "encoding": {"x": {"field": "t", "type": "quantitative"}, "y": {"field": "v", "type": "quantitative"}, "text": {"field": "label"}}}
    ]},
    {"data": {"name": "dtgD"}, "mark": {"type": "line", "strokeWidth": 1.1},
     "encoding": {"x": {"field": "t", "type": "quantitative", "axis": {"values": [100,200,300,400,500,600,700,800,900], "title": "Temperature (°C)", "labelOverlap": false, "labelSeparation": 0, "labelFlush": false, "labelBound": false}},
                  "y": {"field": "v", "type": "quantitative", "scale": {"domain": [-1.5, 0.5], "nice": false}, "axis": {"orient": "right", "values": [-1.5,-1,-0.5,0,0.5], "format": ".1f", "title": "DTG (%·°C⁻¹)", "titleAngle": 270, "titlePadding": 16}},
                  "color": {"field": "s", "type": "nominal", "legend": null}}}
   ],
   "resolve": {"scale": {"y": "independent"}, "axis": {"x": "shared"}}}
 ], "spacing": 8}
],
"spacing": 1
}
